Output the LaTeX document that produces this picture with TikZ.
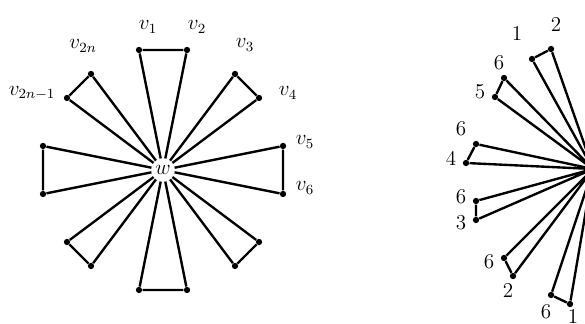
\documentclass[tikz,border=0pt]{standalone}
\begin{document}
\begin{tikzpicture}[x=0.02cm,y=-0.02cm,
  dot/.style={circle,fill=black,inner sep=0pt,minimum size=3.6pt},
  edge/.style={line width=1.35pt,line join=round},
  lab/.style={inner sep=0pt,font=\fontsize{12}{14}\selectfont},
  hub/.style={circle,fill=white,inner sep=0pt,minimum size=13pt,font=\fontsize{12}{14}\selectfont}]
\useasboundingbox (0,0) rectangle (585,324);
\clip (0,0) rectangle (585,324);
% ---------- left figure ----------
\node[hub] (w) at (163,170) {$w$};
\node[dot] (a1) at (139,50) {};
\node[dot] (a2) at (187,50) {};
\node[dot] (a3) at (235,74) {};
\node[dot] (a4) at (259,98) {};
\node[dot] (a5) at (283,146) {};
\node[dot] (a6) at (283,194) {};
\node[dot] (a7) at (259,242) {};
\node[dot] (a8) at (235,266) {};
\node[dot] (a9) at (187,290) {};
\node[dot] (a10) at (139,290) {};
\node[dot] (a11) at (91,266) {};
\node[dot] (a12) at (67,242) {};
\node[dot] (a13) at (43,194) {};
\node[dot] (a14) at (43,146) {};
\node[dot] (a15) at (67,98) {};
\node[dot] (a16) at (91,74) {};
\foreach \p/\q in {a1/a2,a3/a4,a5/a6,a7/a8,a9/a10,a11/a12,a13/a14,a15/a16}{
  \draw[edge] (w) -- (\p) -- (\q) -- (w);
}
\node[lab] (l1) at (148,27) {$v_1$};
\node[lab] (l2) at (197,27) {$v_2$};
\node[lab] (l3) at (245,45) {$v_3$};
\node[lab] (l4) at (288,93) {$v_4$};
\node[lab] (l5) at (305,142) {$v_5$};
\node[lab] (l6) at (305,188) {$v_6$};
\node[lab] (l16) at (83,46) {$v_{2n}$};
\node[lab] (l15) at (32,93) {$v_{2n-1}$};
% ---------- right figure (cut off) ----------
\coordinate (c) at (593,169);
\node[dot] (b1) at (532,59) {};
\node[dot] (b2) at (551,49) {};
\node[dot] (b3) at (504,78) {};
\node[dot] (b4) at (495,97) {};
\node[dot] (b5) at (476,144) {};
\node[dot] (b6) at (466,163) {};
\node[dot] (b7) at (476,201) {};
\node[dot] (b8) at (476,220) {};
\node[dot] (b9) at (504,258) {};
\node[dot] (b10) at (513,276) {};
\node[dot] (b11) at (551,295) {};
\node[dot] (b12) at (570,304) {};
\foreach \p/\q in {b1/b2,b3/b4,b5/b6,b7/b8,b9/b10,b11/b12}{
  \draw[edge] (c) -- (\p) -- (\q) -- (c);
}
\node[lab] (m2) at (556,25) {$2$};
\node[lab] (m1) at (517,34) {$1$};
\node[lab] (m3) at (499,63) {$6$};
\node[lab] (m4) at (480,92) {$5$};
\node[lab] (m5) at (461,129) {$6$};
\node[lab] (m6) at (451,159) {$4$};
\node[lab] (m7) at (461,197) {$6$};
\node[lab] (m8) at (461,223) {$3$};
\node[lab] (m9) at (489,262) {$6$};
\node[lab] (m10) at (508,291) {$2$};
\node[lab] (m11) at (546,312) {$6$};
\node[lab] (m12) at (573,317) {$1$};
\end{tikzpicture}
\end{document}
